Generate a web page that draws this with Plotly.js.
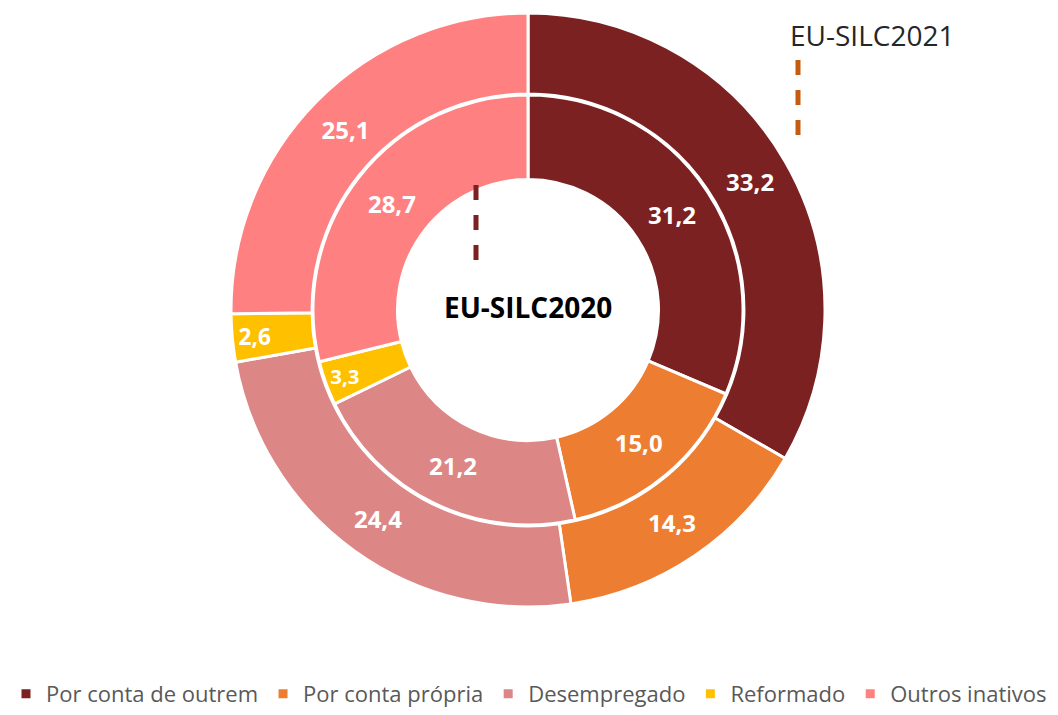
<!DOCTYPE html>
<html>
<head>
<meta charset="utf-8">
<script src="https://cdn.plot.ly/plotly-3.0.1.min.js"></script>
<style>html,body{margin:0;padding:0;background:#fff;}#chart{width:1058px;height:715px;}</style>
</head>
<body>
<div id="chart"></div>
<script>
const categories = ["Por conta de outrem", "Por conta própria", "Desempregado", "Reformado", "Outros inativos"];
const values2020 = [31.2, 15.0, 21.2, 3.3, 28.7];
const values2021 = [33.2, 14.3, 24.4, 2.6, 25.1];
const colors = ["#7B2121", "#ED7D31", "#DD8686", "#FFC000", "#FF8080"];
const textLabels2020 = values2020.map(v => v.toFixed(1).replace('.', ','));
const textLabels2021 = values2021.map(v => v.toFixed(1).replace('.', ','));

const W = 1058, H = 715;
const cx = 528, cy = 310;
function dom(r) {
  return {x: [(cx - r) / W, (cx + r) / W], y: [(H - cy - r) / H, (H - cy + r) / H]};
}

const common = {
  type: 'pie',
  labels: categories,
  sort: false,
  direction: 'clockwise',
  rotation: 0,
  textinfo: 'text',
  textposition: 'inside',
  insidetextorientation: 'horizontal',
  hoverinfo: 'label+value',
  marker: {colors: colors, line: {color: '#ffffff', width: 3}},
  textfont: {family: 'Open Sans, sans-serif', size: 24, color: '#ffffff', weight: 'bold'}
};

const outer = Object.assign({}, common, {
  name: 'EU-SILC2021',
  values: values2021,
  text: textLabels2021,
  hole: 0.727,
  domain: dom(297)
});
const inner = Object.assign({}, common, {
  name: 'EU-SILC2020',
  values: values2020,
  text: textLabels2020,
  hole: 0.607,
  domain: dom(215),
  showlegend: false
});

const layout = {
  width: W, height: H,
  margin: {l: 0, r: 0, t: 0, b: 0},
  paper_bgcolor: '#ffffff',
  showlegend: true,
  legend: {
    orientation: 'h', x: 0.5, xanchor: 'center', y: 0.0, yanchor: 'bottom',
    font: {family: 'Open Sans, sans-serif', size: 22, color: '#595959'},
    traceorder: 'normal', itemwidth: 30
  },
  annotations: [
    {text: 'EU-SILC2021', x: 872 / W, y: 1 - 35 / H, xref: 'paper', yref: 'paper', showarrow: false,
     xanchor: 'center', yanchor: 'middle',
     font: {family: 'Open Sans, sans-serif', size: 28, color: '#262626'}},
    {text: '<b>EU-SILC2020</b>', x: cx / W, y: 1 - 307 / H, xref: 'paper', yref: 'paper', showarrow: false,
     xanchor: 'center', yanchor: 'middle',
     font: {family: 'Open Sans, sans-serif', size: 28, color: '#000000'}}
  ],
  shapes: [
    {type: 'line', xref: 'paper', yref: 'paper', x0: 798 / W, x1: 798 / W, y0: 1 - 60 / H, y1: 1 - 141 / H,
     line: {color: '#C55A11', width: 5, dash: 'dash'}},
    {type: 'line', xref: 'paper', yref: 'paper', x0: 476 / W, x1: 476 / W, y0: 1 - 185 / H, y1: 1 - 268 / H,
     line: {color: '#7B2121', width: 5, dash: 'dash'}}
  ]
};

Plotly.newPlot('chart', [outer, inner], layout, {displayModeBar: false, responsive: false});
</script>
</body>
</html>
